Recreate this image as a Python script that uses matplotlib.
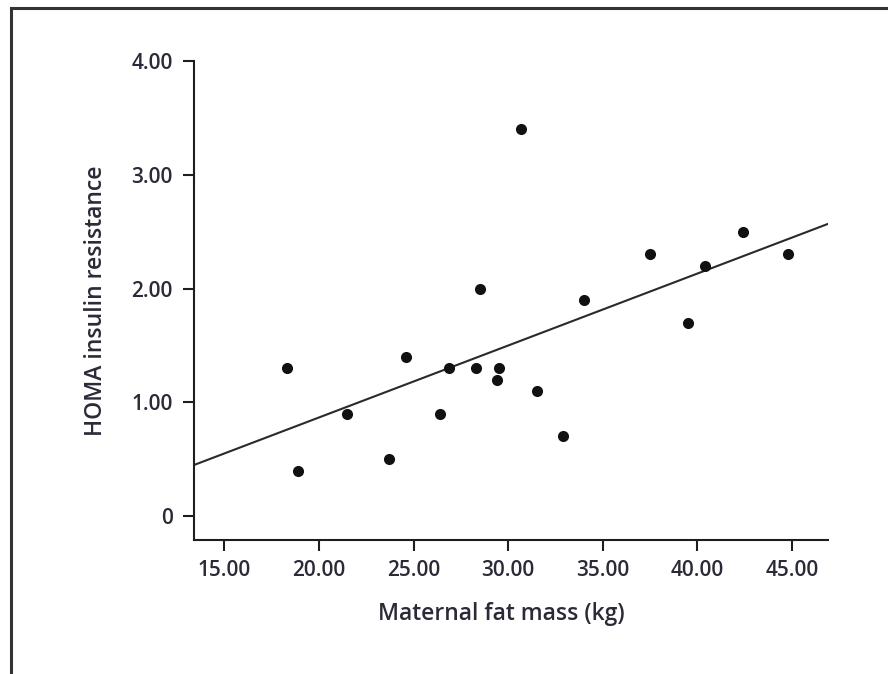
import numpy as np
import matplotlib
matplotlib.use("Agg")
import matplotlib.pyplot as plt
from matplotlib.lines import Line2D

# Data
fat_mass = [18.3, 18.9, 21.5, 23.7, 24.6, 26.4, 26.9, 28.3, 28.5, 29.4,
            29.5, 30.7, 31.5, 32.9, 34.0, 37.5, 39.5, 40.4, 42.4, 44.8]
homa = [1.3, 0.4, 0.9, 0.5, 1.4, 0.9, 1.3, 1.3, 2.0, 1.2,
        1.3, 3.4, 1.1, 0.7, 1.9, 2.3, 1.7, 2.2, 2.5, 2.3]
x_ticks = [15, 20, 25, 30, 35, 40, 45]
y_ticks = [0, 1, 2, 3, 4]
x_tick_labels = ["15.00", "20.00", "25.00", "30.00", "35.00", "40.00", "45.00"]
y_tick_labels = ["0", "1.00", "2.00", "3.00", "4.00"]

FONT = ["Open Sans", "DejaVu Sans"]
TXT = "#2a2a38"
INK = "#1e1e1e"

fig = plt.figure(figsize=(8.88, 6.74), dpi=100)
ax = fig.add_axes([0.2185, 0.1988, 0.9324 - 0.2185, 0.9095 - 0.1988])

x = np.array(fat_mass)
y = np.array(homa)
ax.plot(x, y, "o", color="#111111", ms=8, mec="none", zorder=3)

xmin, xmax = 13.4, 46.9
ymin, ymax = -0.21, 4.0
slope, intercept = np.polyfit(x, y, 1)
xl = np.array([xmin, xmax])
ax.plot(xl, slope * xl + intercept, color="#2a2a2a", lw=1.5, zorder=2)

ax.set_xlim(xmin, xmax)
ax.set_ylim(ymin, ymax)
ax.set_xticks(x_ticks)
ax.set_xticklabels(x_tick_labels)
ax.set_yticks(y_ticks)
ax.set_yticklabels(y_tick_labels)

for s in ["top", "right"]:
    ax.spines[s].set_visible(False)
for s in ["left", "bottom"]:
    ax.spines[s].set_linewidth(1.5)
    ax.spines[s].set_color(INK)

ax.tick_params(direction="out", length=8, width=1.5, color=INK,
               labelsize=15, labelcolor=TXT)
ax.tick_params(axis="x", pad=6.5)
ax.tick_params(axis="y", pad=7.5)
for lab in ax.get_xticklabels() + ax.get_yticklabels():
    lab.set_family(FONT)
    lab.set_fontweight("semibold")

ax.set_xlabel("Maternal fat mass (kg)", fontsize=16.5, color=TXT,
              family=FONT, fontweight="semibold")
ax.xaxis.set_label_coords(0.485, -0.13)
ax.set_ylabel("HOMA insulin resistance", fontsize=16.5, color=TXT,
              family=FONT, fontweight="semibold", labelpad=17)

# outer frame (left and top edges visible in reference)
W, H = 888, 674
fig.add_artist(Line2D([11 / W, 11 / W], [0, 1 - 8 / H], transform=fig.transFigure,
                      color="#333333", lw=2.2))
fig.add_artist(Line2D([11 / W, 1], [1 - 8 / H, 1 - 8 / H], transform=fig.transFigure,
                      color="#333333", lw=2.2))

fig.savefig("out.png", dpi=100)
